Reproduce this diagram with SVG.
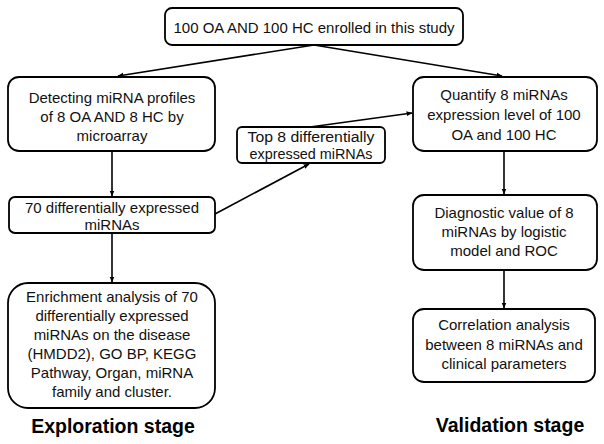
<svg xmlns="http://www.w3.org/2000/svg" width="604" height="444" viewBox="0 0 604 444">
<defs>
<marker id="ah" viewBox="0 0 10 10" refX="9" refY="5" markerWidth="6" markerHeight="6" orient="auto" markerUnits="userSpaceOnUse">
<path d="M0,1 L10,5 L0,9 z" fill="#000"/>
</marker>
<style>
.box{fill:#fff;stroke:#000;stroke-width:1.8}
.t{font-family:"Liberation Sans",Arial,sans-serif;font-size:15px;fill:#111;text-anchor:middle}
.s{font-size:14px}
.h{font-family:"Liberation Sans",Arial,sans-serif;font-size:19.5px;font-weight:bold;fill:#000;text-anchor:middle}
.c{fill:none;stroke:#000;stroke-width:1.6;marker-end:url(#ah)}
</style>
</defs>
<rect width="604" height="444" fill="#fff"/>
<g id="connectors">
<line class="c" x1="314" y1="45" x2="118" y2="76"/>
<line class="c" x1="314" y1="45" x2="502" y2="76"/>
<line class="c" x1="112" y1="151" x2="112" y2="196"/>
<line class="c" x1="112" y1="233" x2="112" y2="282"/>
<line class="c" x1="215" y1="214" x2="309" y2="164"/>
<line class="c" x1="310" y1="127" x2="412" y2="113"/>
<line class="c" x1="504" y1="151" x2="504" y2="194"/>
<line class="c" x1="504" y1="270" x2="504" y2="308"/>
</g>
<g id="n_top">
<rect class="box" x="165" y="8" width="298" height="37" rx="7"/>
<text class="t" x="314" y="33">100 OA AND 100 HC enrolled in this study</text>
</g>
<g id="n_detect">
<rect class="box" x="8" y="77" width="207" height="74" rx="11"/>
<text class="t" x="112" y="103">Detecting miRNA profiles</text>
<text class="t" x="112" y="122">of 8 OA AND 8 HC by</text>
<text class="t" x="112" y="141">microarray</text>
</g>
<g id="n_top8">
<rect class="box" x="237" y="127" width="148" height="36" rx="5"/>
<text class="t s" x="311" y="142" textLength="127" lengthAdjust="spacingAndGlyphs">Top 8 differentially</text>
<text class="t s" x="311" y="159" textLength="123" lengthAdjust="spacingAndGlyphs">expressed miRNAs</text>
</g>
<g id="n_quant">
<rect class="box" x="413" y="77" width="184" height="74" rx="11"/>
<text class="t" x="504" y="100">Quantify 8 miRNAs</text>
<text class="t" x="504" y="120">expression level of 100</text>
<text class="t" x="504" y="140">OA and 100 HC</text>
</g>
<g id="n_70">
<rect class="box" x="9" y="197" width="206" height="36" rx="6"/>
<text class="t" x="112" y="213">70 differentially expressed</text>
<text class="t" x="112" y="230">miRNAs</text>
</g>
<g id="n_diag">
<rect class="box" x="413" y="195" width="184" height="75" rx="11"/>
<text class="t" x="504" y="218">Diagnostic value of 8</text>
<text class="t" x="504" y="237">miRNAs by logistic</text>
<text class="t" x="504" y="256">model and ROC</text>
</g>
<g id="n_enrich">
<rect class="box" x="8" y="283" width="207" height="125" rx="20"/>
<text class="t" x="112" y="302">Enrichment analysis of 70</text>
<text class="t" x="112" y="321">differentially expressed</text>
<text class="t" x="112" y="340">miRNAs on the disease</text>
<text class="t" x="112" y="359">(HMDD2), GO BP, KEGG</text>
<text class="t" x="112" y="378">Pathway, Organ, miRNA</text>
<text class="t" x="112" y="397">family and cluster.</text>
</g>
<g id="n_corr">
<rect class="box" x="413" y="309" width="182" height="73" rx="11"/>
<text class="t" x="504" y="330">Correlation analysis</text>
<text class="t" x="504" y="350">between 8 miRNAs and</text>
<text class="t" x="504" y="369">clinical parameters</text>
</g>
<g id="labels">
<text class="h" x="113" y="433">Exploration stage</text>
<text class="h" x="510" y="432">Validation stage</text>
</g>
</svg>
